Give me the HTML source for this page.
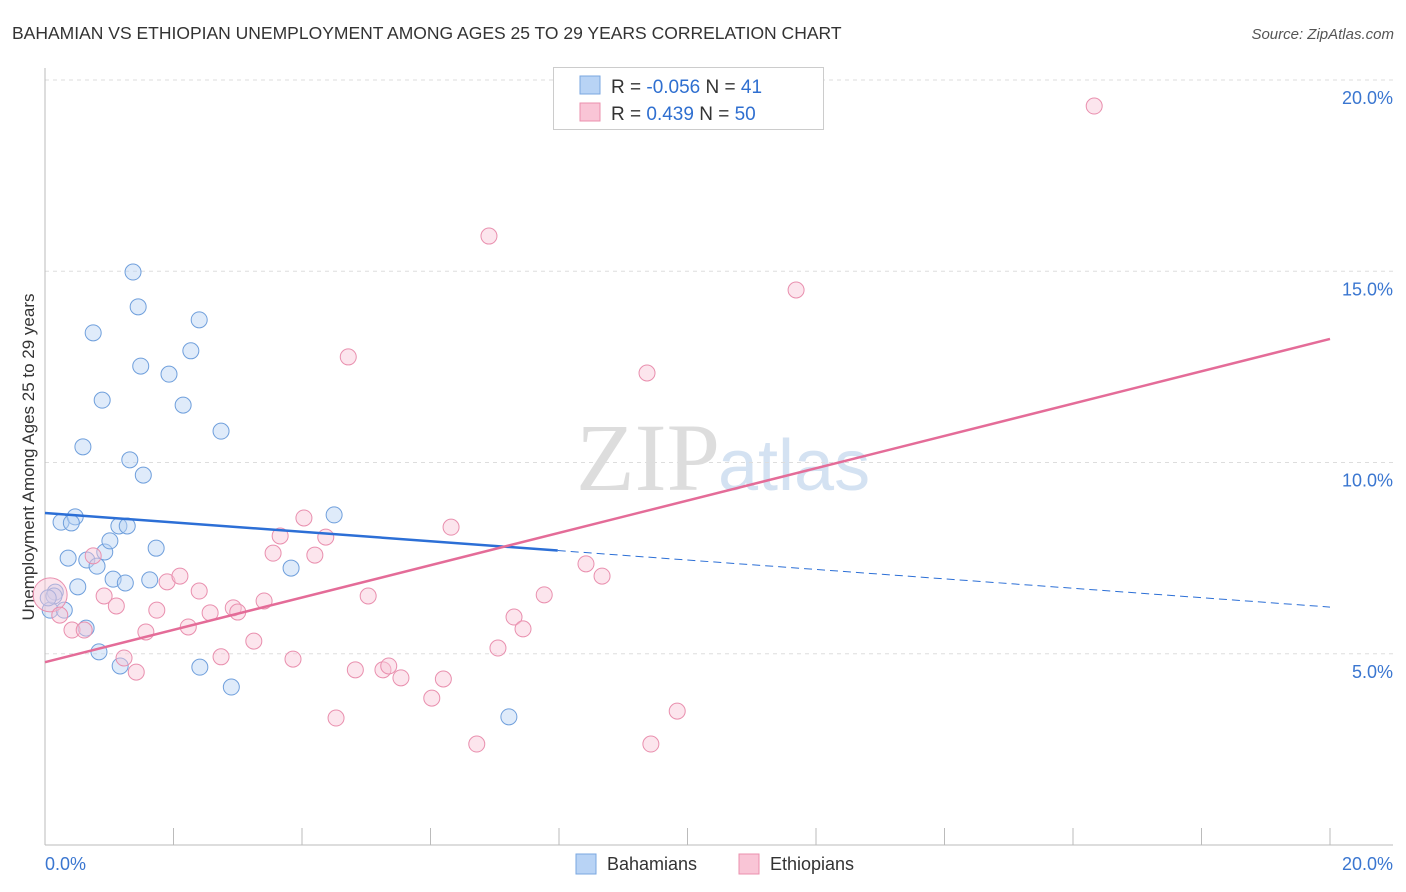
<!DOCTYPE html>
<html><head><meta charset="utf-8"><style>
body{margin:0;background:#fff;font-family:"Liberation Sans",sans-serif}
svg{display:block}
</style></head><body>
<svg id="c" width="1406" height="892">
<text x="12" y="39" font-size="17.5" fill="#333">BAHAMIAN VS ETHIOPIAN UNEMPLOYMENT AMONG AGES 25 TO 29 YEARS CORRELATION CHART</text>
<text x="1394" y="39" font-size="15" fill="#555" font-style="italic" text-anchor="end">Source: ZipAtlas.com</text>
<text x="720" y="490" font-size="96" fill="#ddd" text-anchor="end" font-family="Liberation Serif">ZIP</text>
<text x="718" y="490" font-size="72" fill="#d4e2f2">atlas</text>
<text transform="translate(34,457) rotate(-90)" font-size="17" fill="#333" text-anchor="middle">Unemployment Among Ages 25 to 29 years</text>
<g id="grid"></g><g id="marks"></g>
<g>
<rect x="553.5" y="67.5" width="270" height="62" fill="#fff" stroke="#ccc"/>
<rect x="580" y="76" width="20" height="18" fill="#b8d3f5" stroke="#7aa7e0"/>
<rect x="580" y="103" width="20" height="18" fill="#f9c5d6" stroke="#eb90ae"/>
<text x="611" y="93" font-size="19" fill="#333">R = <tspan fill="#2f6fd0">-0.056</tspan>   N = <tspan fill="#2f6fd0"> 41</tspan></text>
<text x="611" y="120" font-size="19" fill="#333">R =   <tspan fill="#2f6fd0">0.439</tspan>   N = <tspan fill="#2f6fd0">50</tspan></text>
</g>
<g>
<rect x="576" y="854" width="20" height="20" fill="#b8d3f5" stroke="#7aa7e0"/>
<text x="607" y="870" font-size="18" fill="#333">Bahamians</text>
<rect x="739" y="854" width="20" height="20" fill="#f9c5d6" stroke="#eb90ae"/>
<text x="770" y="870" font-size="18" fill="#333">Ethiopians</text>
</g>
</svg>
<script>
const blueX=[0.16,0.08,0.30,0.14,0.25,0.47,0.41,0.36,0.51,0.65,0.81,0.93,1.01,1.06,1.15,1.25,1.28,0.64,0.84,1.17,1.63,1.73,1.53,1.32,0.59,0.89,0.75,1.37,1.45,1.49,1.93,2.27,2.40,2.15,2.74,2.41,2.90,3.83,4.50,7.22,0.05];
const blueY=[6.61,6.14,6.14,6.51,8.44,8.58,8.42,7.50,6.75,7.45,7.29,7.66,7.95,6.95,8.34,6.85,8.34,5.67,5.05,4.68,6.93,7.76,9.67,10.07,10.41,11.63,13.39,14.98,14.07,12.52,12.31,12.92,13.73,11.50,10.82,4.65,4.13,7.24,8.63,3.35,6.46];
const pinkX=[0.08,0.23,0.42,0.61,0.75,0.92,1.11,1.23,1.42,1.57,1.74,1.90,2.10,2.23,2.40,2.57,2.74,2.93,3.00,3.25,3.41,3.55,3.66,3.86,4.03,4.20,4.37,4.53,4.72,4.83,5.03,5.26,5.35,5.54,6.02,6.20,6.32,6.72,6.91,7.05,7.30,7.44,7.77,8.42,8.67,9.43,9.37,9.84,11.69,16.33];
const pinkY=[6.54,6.01,5.62,5.62,7.56,6.51,6.25,4.89,4.52,5.57,6.14,6.88,7.03,5.70,6.64,6.07,4.92,6.20,6.09,5.33,6.38,7.63,8.08,4.86,8.55,7.58,8.05,3.32,12.76,4.58,6.51,4.58,4.68,4.37,3.84,4.34,8.31,2.64,15.92,5.15,5.96,5.65,6.54,7.35,7.03,2.64,12.34,3.50,14.51,19.32];
const blueTrend=[8.68,6.22], blueSolidEnd=7.98;
const pinkTrend=[4.78,13.23];
const yTicks=[5,10,15,20];
const xTickLabels=["0.0%","20.0%"];
const NS="http://www.w3.org/2000/svg";
const sx=v=>45+v*64.25, sy=v=>845-v*38.25;
function mk(p,t,a){const e=document.createElementNS(NS,t);for(const k in a)e.setAttribute(k,a[k]);p.appendChild(e);return e;}
const g=document.getElementById('grid'), m=document.getElementById('marks');
yTicks.forEach(t=>{
 const l=mk(g,'line',{x1:45,x2:1393,y1:sy(t),y2:sy(t),stroke:'#ddd','stroke-dasharray':'4,4'});
 
 
 const tx=mk(g,'text',{x:1393,y:sy(t)+24,'font-size':18,fill:'#3a76d0','text-anchor':'end'});
 tx.textContent=t.toFixed(1)+'%';
 
 
});
mk(g,'line',{x1:45,x2:45,y1:68,y2:845,stroke:'#bbb'});
mk(g,'line',{x1:45,x2:1393,y1:845,y2:845,stroke:'#bbb'});
for(let i=1;i<=10;i++){const t=mk(g,'line',{x1:sx(i*2),x2:sx(i*2),y1:828,y2:845,stroke:'#bbb'});
 
 }
[[0,'start',45],[1,'end',1393]].forEach(([i,a,x])=>{const t=mk(g,'text',{x:x,y:870,'font-size':18,fill:'#3a76d0','text-anchor':a});t.textContent=xTickLabels[i];
 
 });
function dots(X,Y,fill,stroke,name){X.forEach((x,i)=>{const c=mk(m,'circle',{cx:sx(x),cy:sy(Y[i]),r:(name==='ethiopian-point'&&i===0)?17:8,fill:fill,'fill-opacity':0.45,stroke:stroke,'stroke-width':1});
 
 });}
dots(blueX,blueY,'#b8d3f5','#6f9fdc','bahamian-point');
dots(pinkX,pinkY,'#f9c5d6','#e98fae','ethiopian-point');
const by=v=>blueTrend[0]+(blueTrend[1]-blueTrend[0])*v/20;
let l=mk(m,'line',{x1:sx(0),y1:sy(by(0)),x2:sx(blueSolidEnd),y2:sy(by(blueSolidEnd)),stroke:'#2c6fd6','stroke-width':2.5});


l=mk(m,'line',{x1:sx(blueSolidEnd),y1:sy(by(blueSolidEnd)),x2:sx(20),y2:sy(by(20)),stroke:'#2c6fd6','stroke-width':1,'stroke-dasharray':'8,5'});


l=mk(m,'line',{x1:sx(0),y1:sy(pinkTrend[0]),x2:sx(20),y2:sy(pinkTrend[1]),stroke:'#e46c98','stroke-width':2.5});


</script>
</body></html>
